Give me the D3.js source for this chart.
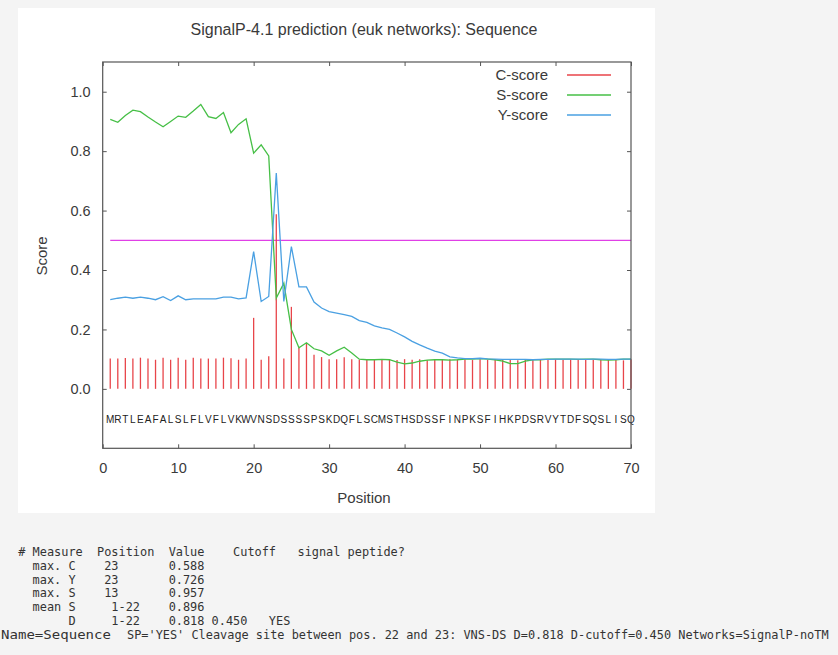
<!DOCTYPE html>
<html><head><meta charset="utf-8">
<script src="https://cdn.jsdelivr.net/npm/d3@7"></script>
<style>body{margin:0;background:#f4f4f4;} svg{display:block}</style>
</head><body><svg id="c" width="838" height="655"></svg>
<script>
const residues = "MRTLEAFALSLFLVFLVKWVNSDSSSSPSKDQFLSCMSTHSDSSFINPKSFIHKPDSRVYTDFSQSLISQ".split("");
const cScore = [0.102,0.102,0.104,0.102,0.105,0.102,0.098,0.105,0.098,0.105,
  0.098,0.105,0.102,0.102,0.102,0.105,0.103,0.098,0.102,0.239,
  0.098,0.110,0.588,0.102,0.276,0.138,0.153,0.115,0.107,0.100,
  0.100,0.106,0.100,0.098,0.100,0.100,0.098,0.100,0.097,0.100,
  0.098,0.100,0.096,0.100,0.098,0.100,0.098,0.100,0.097,0.100,
  0.098,0.100,0.097,0.099,0.096,0.100,0.098,0.100,0.097,0.100,
  0.098,0.100,0.097,0.100,0.098,0.100,0.097,0.099,0.096,0.100];
const sScore = [0.907,0.897,0.920,0.938,0.933,0.915,0.898,0.882,0.900,0.918,
  0.914,0.935,0.957,0.916,0.910,0.930,0.862,0.890,0.909,0.793,
  0.821,0.784,0.306,0.356,0.200,0.138,0.155,0.135,0.128,0.113,
  0.128,0.140,0.121,0.100,0.098,0.098,0.099,0.098,0.090,0.084,
  0.087,0.093,0.097,0.098,0.098,0.097,0.098,0.100,0.100,0.102,
  0.100,0.098,0.093,0.085,0.085,0.093,0.098,0.098,0.100,0.100,
  0.100,0.100,0.099,0.100,0.100,0.098,0.097,0.098,0.100,0.100];
const yScore = [0.300,0.305,0.309,0.305,0.309,0.305,0.300,0.310,0.297,0.313,
  0.300,0.303,0.303,0.303,0.303,0.309,0.309,0.303,0.306,0.462,
  0.294,0.311,0.726,0.294,0.479,0.343,0.343,0.292,0.272,0.260,
  0.255,0.250,0.244,0.230,0.224,0.212,0.205,0.200,0.188,0.175,
  0.160,0.148,0.137,0.127,0.120,0.108,0.104,0.102,0.102,0.103,
  0.101,0.100,0.099,0.099,0.099,0.099,0.098,0.099,0.099,0.100,
  0.100,0.100,0.100,0.099,0.100,0.100,0.099,0.099,0.100,0.100];
const cutoff = 0.5;
const xTicks = [0,10,20,30,40,50,60,70];
const yTicks = [0.0,0.2,0.4,0.6,0.8,1.0];
const seriesNames = ["C-score","S-score","Y-score"];
const seriesColors = ["#e8454a","#46bf46","#4aa0e2"];
const titleText = "SignalP-4.1 prediction (euk networks): Sequence";
const reportLines = [
  "# Measure  Position  Value    Cutoff   signal peptide?",
  "  max. C    23       0.588",
  "  max. Y    23       0.726",
  "  max. S    13       0.957",
  "  mean S     1-22    0.896",
  "       D     1-22    0.818 0.450   YES"
];
const nameLead = "Name=Sequence";
const nameRest = "SP='YES' Cleavage site between pos. 22 and 23: VNS-DS D=0.818 D-cutoff=0.450 Networks=SignalP-noTM";

const svg = d3.select("#c");
const L = 102.7, R = 631, T = 62, B = 448.3;
const x = d3.scaleLinear().domain([0,70]).range([L,R]);
const y = d3.scaleLinear().domain([-0.2,1.1]).range([B,T]);
const pos = residues.map((r,i)=>i+1);

svg.append("rect").attr("x",18).attr("y",8).attr("width",637).attr("height",505).attr("fill","#fff");

const txt = "#3a3a3a";
const sans = "'Liberation Sans', Arial, sans-serif";

svg.append("text").attr("x",364).attr("y",35).attr("text-anchor","middle")
  .attr("font-family",sans).attr("font-size",16).attr("fill",txt).text(titleText);

// cutoff line
svg.append("line").attr("x1",x(1)).attr("x2",x(70)).attr("y1",y(cutoff)).attr("y2",y(cutoff))
  .attr("stroke","#e040e6").attr("stroke-width",1.3);

// C-score impulses
svg.append("g").selectAll("line").data(cScore).join("line")
  .attr("x1",(d,i)=>x(pos[i])).attr("x2",(d,i)=>x(pos[i]))
  .attr("y1",y(0)).attr("y2",d=>y(d))
  .attr("stroke",seriesColors[0]).attr("stroke-width",1.3);

const line = d3.line().x((d,i)=>x(pos[i])).y(d=>y(d));
svg.append("path").datum(sScore).attr("d",line).attr("fill","none")
  .attr("stroke",seriesColors[1]).attr("stroke-width",1.3);
svg.append("path").datum(yScore).attr("d",line).attr("fill","none")
  .attr("stroke",seriesColors[2]).attr("stroke-width",1.3);

// residue labels
svg.append("g").selectAll("text").data(residues).join("text")
  .attr("x",(d,i)=>x(pos[i])).attr("y",423).attr("text-anchor","middle")
  .attr("font-family",sans).attr("font-size",10).attr("fill","#222").text(d=>d);

// axes
const axStyle = g=>{ g.select(".domain").remove();
  g.selectAll(".tick line").attr("stroke","#555");
  g.selectAll("text").attr("font-family",sans).attr("font-size",14.5).attr("fill",txt); };
svg.append("g").attr("transform",`translate(0,${B})`)
  .call(d3.axisBottom(x).tickValues(xTicks).tickSize(-4).tickPadding(14).tickFormat(d3.format("d"))).call(axStyle);
svg.append("g").attr("transform",`translate(0,${T})`)
  .call(d3.axisTop(x).tickValues(xTicks).tickSize(-4).tickFormat("")).call(axStyle);
svg.append("g").attr("transform",`translate(${L},0)`)
  .call(d3.axisLeft(y).tickValues(yTicks).tickSize(-4).tickPadding(12).tickFormat(d3.format(".1f"))).call(axStyle);
svg.append("g").attr("transform",`translate(${R},0)`)
  .call(d3.axisRight(y).tickValues(yTicks).tickSize(-4).tickFormat("")).call(axStyle);

svg.append("rect").attr("x",L).attr("y",T).attr("width",R-L).attr("height",B-T)
  .attr("fill","none").attr("stroke","#555").attr("stroke-width",1.2);

// axis titles
svg.append("text").attr("x",364).attr("y",503).attr("text-anchor","middle")
  .attr("font-family",sans).attr("font-size",15).attr("fill",txt).text("Position");
svg.append("text").attr("transform","translate(47,256) rotate(-90)").attr("text-anchor","middle")
  .attr("font-family",sans).attr("font-size",15).attr("fill",txt).text("Score");

// legend
const lg = svg.append("g");
seriesNames.forEach((n,i)=>{
  const yy = 75 + i*20;
  lg.append("text").attr("x",548).attr("y",yy+5).attr("text-anchor","end")
    .attr("font-family",sans).attr("font-size",15).attr("fill",txt).text(n);
  lg.append("line").attr("x1",567).attr("x2",611).attr("y1",yy).attr("y2",yy)
    .attr("stroke",seriesColors[i]).attr("stroke-width",1.3);
});

// report text
const mono = "'DejaVu Sans Mono', monospace";
reportLines.forEach((s,i)=>{
  svg.append("text").attr("x",18.3).attr("y",555.7+i*13.9)
    .attr("font-family",mono).attr("font-size",11.9).attr("fill","#333")
    .style("white-space","pre").text(s);
});
svg.append("text").attr("x",1).attr("y",639.1).attr("font-family",mono).attr("font-size",11.9)
  .attr("fill","#333").attr("textLength",110).attr("lengthAdjust","spacingAndGlyphs").text(nameLead);
svg.append("text").attr("x",127).attr("y",639.1).attr("font-family",mono).attr("font-size",11.9)
  .attr("fill","#333").style("white-space","pre").text(nameRest);
</script></body></html>
